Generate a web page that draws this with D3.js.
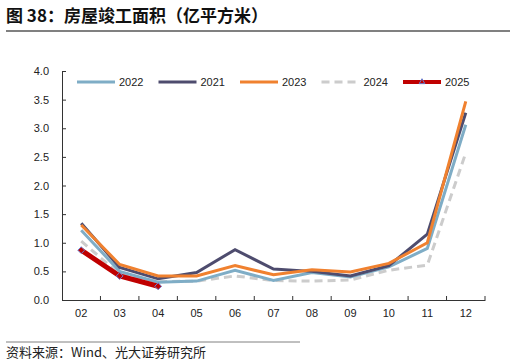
<!DOCTYPE html>
<html>
<head>
<meta charset="utf-8">
<script src="https://cdn.jsdelivr.net/npm/d3@7"></script>
<style>
  body { margin: 0; background: #fff; }
  svg { display: block; font-family: "Liberation Sans", Arial, sans-serif; }
</style>
</head>
<body>
<div id="chart"></div>
<script>
// --- DATA ---
const months = ["02", "03", "04", "05", "06", "07", "08", "09", "10", "11", "12"];
const yTicks = [0, 0.5, 1.0, 1.5, 2.0, 2.5, 3.0, 3.5, 4.0];

const v2022 = [1.22, 0.50, 0.31, 0.33, 0.52, 0.34, 0.48, 0.40, 0.58, 0.90, 3.06];
const v2021 = [1.34, 0.57, 0.37, 0.48, 0.88, 0.54, 0.50, 0.42, 0.60, 1.15, 3.27];
const v2023 = [1.31, 0.62, 0.42, 0.42, 0.60, 0.44, 0.53, 0.49, 0.64, 1.00, 3.47];
const v2024 = [1.03, 0.45, 0.32, 0.33, 0.42, 0.34, 0.33, 0.35, 0.52, 0.61, 2.57];
const v2025 = [0.87, 0.42, 0.24];

const series = [
    {name: "2022", values: v2022, color: "#7fadc6", width: 3, dash: null},
    {name: "2021", values: v2021, color: "#4e4c6e", width: 3, dash: null},
    {name: "2023", values: v2023, color: "#f0812f", width: 3, dash: null},
    {name: "2024", values: v2024, color: "#cccccc", width: 3, dash: "8,5"},
    {name: "2025", values: v2025, color: "#c00000", width: 5, dash: null, marker: true}
];

// --- LAYOUT ---
const W = 516, H = 363;
const margin = {left: 62, right: 31, top: 71, bottom: 62};

const svg = d3.select("#chart").append("svg")
    .attr("width", W)
    .attr("height", H);

// Title and separators
svg.append("text")
    .attr("x", 6).attr("y", 22)
    .attr("font-family", "'Noto Sans CJK SC', sans-serif")
    .attr("font-size", 17)
    .attr("font-weight", "bold")
    .attr("fill", "#111")
    .text("图 38：房屋竣工面积（亿平方米）");

svg.append("line")
    .attr("x1", 6).attr("x2", 510)
    .attr("y1", 31).attr("y2", 31)
    .attr("stroke", "#808080").attr("stroke-width", 2);

svg.append("line")
    .attr("x1", 6).attr("x2", 300)
    .attr("y1", 342).attr("y2", 342)
    .attr("stroke", "#808080").attr("stroke-width", 1);

svg.append("text")
    .attr("x", 6).attr("y", 357)
    .attr("font-family", "'Noto Sans CJK SC', sans-serif")
    .attr("font-size", 13)
    .attr("fill", "#222")
    .text("资料来源：Wind、光大证券研究所");

// Scales
const x = d3.scaleBand()
    .domain(months)
    .range([margin.left, W - margin.right]);

const y = d3.scaleLinear()
    .domain([0, 4])
    .range([H - margin.bottom - 1, margin.top]);

// Axes
const yAxis = svg.append("g")
    .attr("transform", `translate(${margin.left},0)`)
    .call(d3.axisLeft(y).tickValues(yTicks).tickFormat(d3.format(".1f")).tickSizeInner(-4).tickSizeOuter(0).tickPadding(13));
yAxis.select(".domain").attr("stroke", "#333");
yAxis.selectAll(".tick line").attr("stroke", "#333");
yAxis.selectAll("text").attr("font-size", 11).attr("fill", "#222");

const xAxisY = y(0);
const xAxis = svg.append("g")
    .attr("transform", `translate(0,${xAxisY})`)
    .call(d3.axisBottom(x).tickSize(0).tickPadding(9));
xAxis.select(".domain").attr("stroke", "#333");
xAxis.selectAll("text").attr("font-size", 11).attr("fill", "#222");

// Tick marks at band boundaries, pointing inward
const bounds = months.map(m => x(m)).concat([x(months[months.length - 1]) + x.bandwidth()]).slice(1);
svg.append("g").selectAll("line")
    .data(bounds)
    .join("line")
    .attr("x1", d => d).attr("x2", d => d)
    .attr("y1", xAxisY).attr("y2", xAxisY - 4)
    .attr("stroke", "#333");

// Lines
const line = d3.line()
    .x((d, i) => x(months[i]) + x.bandwidth() / 2)
    .y(d => y(d));

const order = ["2024", "2022", "2021", "2023", "2025"];
order.forEach(name => {
    const s = series.find(t => t.name === name);
    svg.append("path")
        .datum(s.values)
        .attr("fill", "none")
        .attr("stroke", s.color)
        .attr("stroke-width", s.width)
        .attr("stroke-dasharray", s.dash)
        .attr("stroke-linejoin", "miter")
        .attr("d", line);
    if (s.marker) {
        svg.append("g").selectAll("path")
            .data(s.values)
            .join("path")
            .attr("d", d3.symbol(d3.symbolDiamond2, 30)())
            .attr("transform", (d, i) => `translate(${x(months[i]) + x.bandwidth() / 2},${y(d)})`)
            .attr("fill", s.color)
            .attr("stroke", "#6a7fd0")
            .attr("stroke-width", 1);
    }
});

// Legend
const legend = svg.append("g").attr("transform", "translate(77,82)");
series.forEach((s, i) => {
    const g = legend.append("g").attr("transform", `translate(${i * 81.5},0)`);
    g.append("line")
        .attr("x1", 0).attr("x2", 38)
        .attr("stroke", s.color)
        .attr("stroke-width", s.marker ? 4 : 3)
        .attr("stroke-dasharray", s.dash);
    if (s.marker) {
        g.append("path")
            .attr("d", d3.symbol(d3.symbolTriangle, 14)())
            .attr("transform", "translate(19,0)")
            .attr("fill", s.color)
            .attr("stroke", "#6a7fd0")
            .attr("stroke-width", 1);
    }
    g.append("text")
        .attr("x", 42).attr("y", 4)
        .attr("font-size", 11)
        .attr("fill", "#222")
        .text(s.name);
});
</script>
</body>
</html>
